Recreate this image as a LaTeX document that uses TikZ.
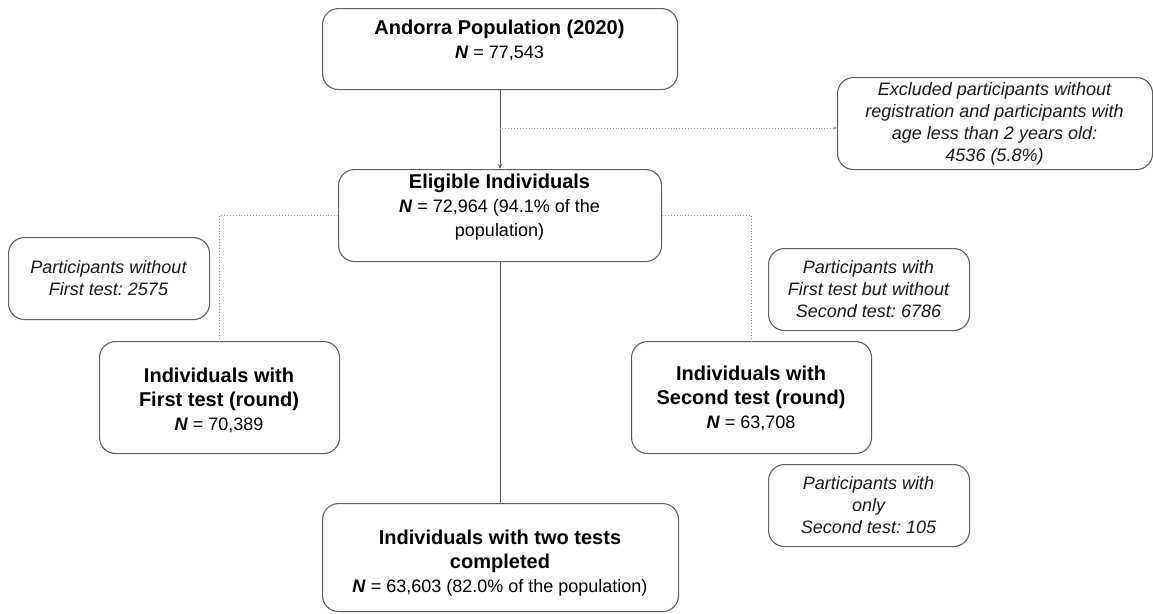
\documentclass[tikz,border=0pt]{standalone}
\usepackage{fontspec}
\setmainfont{Liberation Sans}
\usetikzlibrary{arrows.meta}
\frenchspacing
\newcommand{\bigb}[1]{{\fontsize{20}{24}\selectfont\bfseries #1}}
\newcommand{\NN}{\textbf{\textit{N}}}
\tikzset{
  box/.style={draw=black!62, line width=1.1pt, rounded corners=16pt, inner sep=0pt, anchor=north west},
  maintext/.style={align=center, font=\fontsize{18}{24}\selectfont\frenchspacing, text=black},
  sidetext/.style={align=center, font=\fontsize{18}{22}\selectfont\itshape\frenchspacing, text=black!90},
  solidline/.style={draw=black!65, line width=1pt},
  arrowline/.style={solidline, -{Stealth[length=5pt,width=4pt]}},
  dotline/.style={draw=black!40, line width=0.9pt, dotted},
  dotarrow/.style={dotline, -{Stealth[length=4pt,width=3pt]}}
}
\begin{document}
\begin{tikzpicture}[x=1pt,y=-1pt]
\useasboundingbox (0,0) rectangle (1153,613);
% boxes
\node[box, minimum width=355pt, minimum height=81pt] (top) at (322,8) {};
\node[box, minimum width=323pt, minimum height=92pt] (elig) at (338,169) {};
\node[box, minimum width=315pt, minimum height=92pt] (excl) at (837,77) {};
\node[box, minimum width=201pt, minimum height=82pt] (wo) at (8,237) {};
\node[box, minimum width=240pt, minimum height=112pt] (first) at (99,341) {};
\node[box, minimum width=201pt, minimum height=82pt] (fbw) at (768,248) {};
\node[box, minimum width=240pt, minimum height=112pt] (second) at (631,341) {};
\node[box, minimum width=201pt, minimum height=82pt] (only) at (768,464) {};
\node[box, minimum width=356pt, minimum height=108pt] (two) at (322,503) {};
% texts
\node[maintext] (ttop) at (499.5,40) {\bigb{Andorra Population (2020)}\\ \NN{} = 77,543};
\node[maintext] (telig) at (499.5,207) {\bigb{Eligible Individuals}\\ \NN{} = 72,964 (94.1\% of the\\ population)};
\node[sidetext] (texcl) at (994.5,124) {Excluded participants without\\ registration and participants with\\ age less than 2 years old:\\ 4536 (5.8\%)};
\node[sidetext] (two1) at (108.5,278) {Participants without\\ First test: 2575};
\node[maintext] (tfirst) at (219,400) {\bigb{Individuals with}\\ \bigb{First test (round)}\\ \NN{} = 70,389};
\node[sidetext] (tfbw) at (868.5,289) {Participants with\\ First test but without\\ Second test: 6786};
\node[maintext] (tsecond) at (751,398) {\bigb{Individuals with}\\ \bigb{Second test (round)}\\ \NN{} = 63,708};
\node[sidetext] (tonly) at (868.5,505) {Participants with\\ only\\ Second test: 105};
\node[maintext] (ttwo) at (500,563) {\bigb{Individuals with two tests}\\ \bigb{completed}\\ \NN{} = 63,603 (82.0\% of the population)};
% connectors
\draw[arrowline] (top.south) -- (elig.north);
\coordinate (j1) at (499.5,128);
\draw[dotarrow] (j1) -- (j1 -| excl.west);
\draw[dotline] (elig.west) -| (first.north);
\draw[dotline] (elig.east) -| (second.north);
\draw[solidline] (elig.south) -- (elig.south |- two.north);
\end{tikzpicture}
\end{document}
